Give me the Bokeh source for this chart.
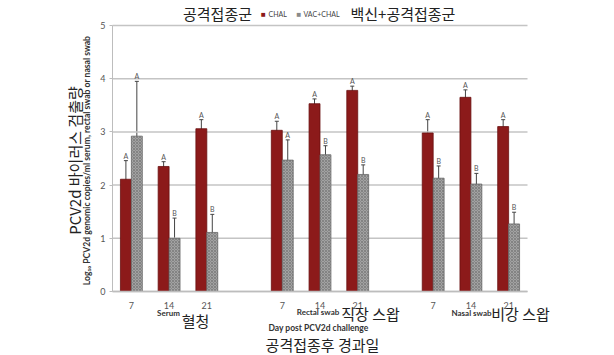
import math
from bokeh.plotting import figure
from bokeh.models import Range1d, FixedTicker, Label, ColumnDataSource, Whisker, TeeHead, LinearAxis
from bokeh.core.properties import value
from bokeh.embed import file_html
from bokeh.resources import INLINE

# ---- data ----
positions = [0, 1, 2, 4, 5, 6, 8, 9, 10]
day_labels = ["7", "14", "21", "7", "14", "21", "7", "14", "21"]
chal = [2.11, 2.35, 3.06, 3.03, 3.53, 3.78, 2.98, 3.65, 3.10]
chal_err = [0.35, 0.09, 0.17, 0.17, 0.09, 0.08, 0.25, 0.14, 0.13]
vac = [2.92, 1.00, 1.11, 2.47, 2.57, 2.20, 2.13, 2.02, 1.27]
vac_err = [1.03, 0.38, 0.34, 0.38, 0.17, 0.18, 0.23, 0.20, 0.22]
chal_letters = ["A"] * 9
vac_letters = ["A", "B", "B", "A", "B", "B", "B", "B", "B"]
y_ticks = [0, 1, 2, 3, 4, 5]

RED = "#8c1a1a"
GRAY = "#a2a2a2"
LAT = "Lato"
KR = "Noto Sans CJK KR"

W, H = 614, 355
# plotting area in pixels inside the canvas
L_PX, R_PX, T_PX, B_PX = 112, 527, 25, 291
X0, X1, Y0, Y1 = -0.5, 10.5, 0.0, 5.0
sx = (R_PX - L_PX) / (X1 - X0)
sy = (B_PX - T_PX) / (Y1 - Y0)
x_range = Range1d(X0 - L_PX / sx, X1 + (W - R_PX) / sx)
y_range = Range1d(Y0 - (H - B_PX) / sy, Y1 + T_PX / sy)

p = figure(width=W, height=H, min_border=0, output_backend="svg", toolbar_location=None,
           x_range=x_range, y_range=y_range, x_axis_location=None, y_axis_location=None)
p.outline_line_color = None
p.xgrid.grid_line_color = None
p.ygrid.grid_line_color = None
p.background_fill_color = "white"
p.border_fill_color = "white"

# horizontal gridlines, only over the plotting area
p.segment(x0=[X0] * len(y_ticks), x1=[X1] * len(y_ticks), y0=y_ticks, y1=y_ticks,
          line_color="#c4c4c4", line_width=1.5)

w = 0.29
xr = [x - w / 2 for x in positions]
xg = [x + w / 2 for x in positions]

src = ColumnDataSource(dict(xr=xr, xg=xg, chal=chal, vac=vac,
                            cl=[v - e for v, e in zip(chal, chal_err)],
                            cu=[v + e for v, e in zip(chal, chal_err)],
                            vl=[v - e for v, e in zip(vac, vac_err)],
                            vu=[v + e for v, e in zip(vac, vac_err)],
                            cletter=chal_letters, vletter=vac_letters))

p.vbar(x="xr", top="chal", width=w, bottom=0, source=src, fill_color=RED,
       line_color="#6a1010", line_width=0.8)
p.vbar(x="xg", top="vac", width=w, bottom=0, source=src, fill_color=GRAY,
       line_color="#6a6a6a", line_width=0.8, hatch_pattern="x", hatch_scale=3,
       hatch_color="#6f6f6f", hatch_weight=0.6)

for base, lo, up in (("xr", "cl", "cu"), ("xg", "vl", "vu")):
    wk = Whisker(base=base, lower=lo, upper=up, source=src, line_color="#444444", line_width=1,
                 upper_head=TeeHead(size=4, line_color="#444444", line_width=1),
                 lower_head=TeeHead(size=4, line_color="#444444", line_width=1))
    p.add_layout(wk)

p.text(x="xr", y="cu", text="cletter", source=src, text_font=value(LAT), text_font_size="7px",
       text_color="#555555", text_align="center", text_baseline="bottom", y_offset=-1)
p.text(x="xg", y="vu", text="vletter", source=src, text_font=value(LAT), text_font_size="7px",
       text_color="#555555", text_align="center", text_baseline="bottom", y_offset=-1)

# axes fixed at the edges of the plotting area
xaxis = LinearAxis(fixed_location=0, bounds=(X0, X1))
xaxis.ticker = FixedTicker(ticks=positions)
xaxis.major_label_overrides = {pos: lab for pos, lab in zip(positions, day_labels)}
xaxis.major_tick_line_color = None
xaxis.minor_tick_line_color = None
xaxis.axis_line_color = "#bdbdbd"
xaxis.axis_line_width = 1.5
xaxis.major_label_text_font = LAT
xaxis.major_label_text_font_size = "9px"
xaxis.major_label_text_color = "#555555"
xaxis.major_label_standoff = 4
p.add_layout(xaxis, "below")

yaxis = LinearAxis(fixed_location=X0, bounds=(Y0, Y1))
yaxis.ticker = FixedTicker(ticks=y_ticks)
yaxis.minor_tick_line_color = None
yaxis.axis_line_color = "#bdbdbd"
yaxis.major_tick_line_color = "#bdbdbd"
yaxis.major_tick_out = 3
yaxis.major_tick_in = 0
yaxis.major_label_text_font = LAT
yaxis.major_label_text_font_size = "9px"
yaxis.major_label_text_color = "#555555"
yaxis.major_label_standoff = 4
p.add_layout(yaxis, "left")


def lab(text, x, y, size, font=LAT, bold=False, align="center", angle=0, color="#333333"):
    p.add_layout(Label(x=x, y=y, text=text, text_font=font, text_font_size=size,
                       text_font_style="bold" if bold else "normal", text_align=align,
                       text_baseline="middle", angle=angle, text_color=color))


# group / axis texts
lab("Serum", 0.984, -0.395, "8px", bold=True)
lab("혈청", 1.70, -0.545, "15px", font=KR, color="#222222")
lab("Rectal swab", 4.947, -0.385, "8px", bold=True)
lab("직장 스왑", 6.339, -0.414, "15px", font=KR, color="#222222")
lab("Nasal swab", 9.016, -0.395, "8px", bold=True)
lab("비강 스왑", 10.314, -0.414, "15px", font=KR, color="#222222")
lab("Day post PCV2d challenge", 4.96, -0.685, "8.5px", bold=True)
lab("공격접종후 경과일", 5.066, -0.996, "15px", font=KR, color="#222222")

lab("Log₁₀ PCV2d genomic copies/ml serum, rectal swab or nasal swab", -1.189, 2.462, "8.6px",
    bold=True, angle=math.pi / 2)
lab("PCV2d 바이러스 검출량", -1.507, 2.462, "15px", font=KR, angle=math.pi / 2, color="#222222")

# legend line at top
lab("공격접종군", 2.283, 5.226, "15px", font=KR, color="#222222")
lab("■", 3.502, 5.215, "8px", color=RED)
lab("CHAL", 3.635, 5.215, "7px", align="left", color="#444444")
lab("■", 4.443, 5.215, "8px", color="#8a8a8a")
lab("VAC+CHAL", 4.563, 5.215, "7px", align="left", color="#444444")
lab("백신+공격접종군", 5.808, 5.226, "15px", font=KR, align="left", color="#222222")

open("out.html", "w").write(file_html(p, INLINE))
